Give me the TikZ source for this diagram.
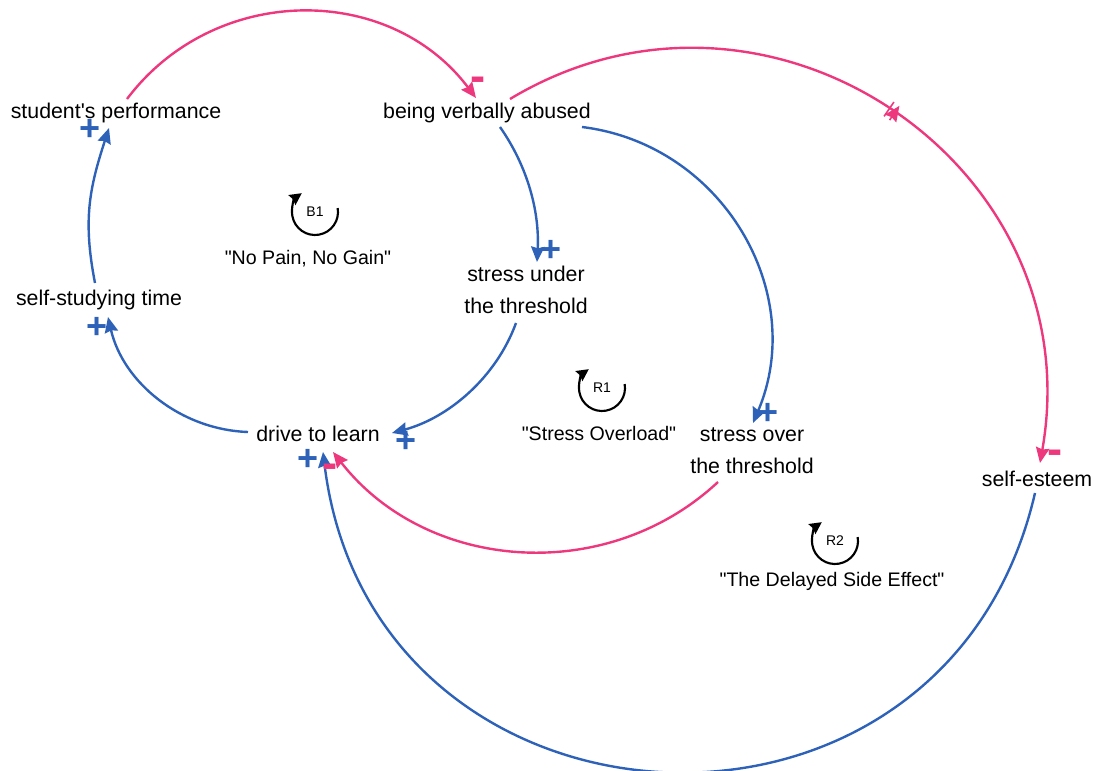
\documentclass[tikz,border=0pt]{standalone}
\usepackage{fontspec}
\setmainfont{Liberation Sans}[Ligatures=TeXOff]
\usetikzlibrary{arrows.meta,calc,decorations.markings}
\definecolor{linkblue}{RGB}{45,98,184}
\definecolor{linkpink}{RGB}{238,56,126}

\begin{document}
\begin{tikzpicture}[x=0.75pt,y=0.75pt,
  varnode/.style={font=\fontsize{16}{24}\selectfont, align=center, inner sep=0pt},
  looptitle/.style={font=\fontsize{14.7}{18}\selectfont, inner sep=0pt},
  loopid/.style={font=\fontsize{10.5}{12}\selectfont, inner sep=0pt},
  plussign/.style={text=linkblue, font=\fontsize{27}{27}\bfseries\selectfont, inner sep=0pt},
  minussign/.style={text=linkpink, font=\fontsize{34}{34}\bfseries\selectfont, inner sep=0pt},
  poslink/.style={draw=linkblue, line width=1.8pt, -{Stealth[length=11.5pt,width=10pt,inset=1.2pt]}},
  neglink/.style={draw=linkpink, line width=1.8pt, -{Stealth[length=11.5pt,width=10pt,inset=1.2pt]}},
  loopsym/.style={draw=black, line width=1.6pt, -{Stealth[length=9pt,width=9pt,inset=1pt]}},
  delaymark/.style={postaction={decorate, decoration={markings,
     mark=at position #1 with {\draw[linkpink, line width=1.2pt]
        (-2.5pt,-6.5pt) -- (-2.5pt,6.5pt) (2.5pt,-6.5pt) -- (2.5pt,6.5pt);}}}}
]
\useasboundingbox (0,0) rectangle (1096,-771);

% variables
\node[varnode] (perf)   at (116,-113) {student's performance};
\node[varnode] (abuse)  at (487,-113) {being verbally abused};
\node[varnode] (selfst) at (99,-300)  {self-studying time};
\node[varnode] (drive)  at (318,-434) {drive to learn};
\node[varnode] (under)  at (526,-290) {stress under\\the threshold};
\node[varnode] (over)   at (752,-451) {stress over\\the threshold};
\node[varnode] (esteem) at (1037,-479) {self-esteem};

% causal links
\draw[neglink] ($(perf)+(11,14)$) to[out=53,in=127,looseness=1.06] ($(abuse)+(-11,15)$);
\draw[neglink, delaymark=0.5] ($(abuse)+(23,14)$) to[out=31,in=80,looseness=1.2] ($(esteem)+(3,16)$);
\draw[poslink] ($(abuse)+(13,-14)$) to[out=-55,in=87,looseness=0.9] ($(under)+(11,28)$);
\draw[poslink] ($(abuse)+(95,-14)$) to[out=-7,in=67,looseness=1.06] ($(over)+(1,28)$);
\draw[poslink] ($(under)+(-10,-33)$) to[out=-110,in=15,looseness=0.9] ($(drive)+(74,1)$);
\draw[neglink] ($(over)+(-34,-31)$) to[out=-137,in=-52,looseness=1.01] ($(drive)+(15,-18)$);
\draw[poslink] ($(esteem)+(-2,-14)$) to[out=-103,in=-83,looseness=1.45] ($(drive)+(5,-18)$);
\draw[poslink] ($(drive)+(-70,2)$) to[out=178,in=-77,looseness=0.95] ($(selfst)+(9,-17)$);
\draw[poslink] ($(selfst)+(-4,17)$) to[out=101,in=-108,looseness=1.05] ($(perf)+(-7,-15)$);

% polarities
\node[minussign] (s1) at (478,-84)  {-};
\node[minussign] (s2) at (1055,-457) {-};
\node[plussign]  (s3) at (551,-251) {+};
\node[plussign]  (s4) at (768,-414) {+};
\node[plussign]  (s5) at (406,-442) {+};
\node[minussign] (s6) at (330,-471) {-};
\node[plussign]  (s7) at (308,-460) {+};
\node[plussign]  (s8) at (97,-328)  {+};
\node[plussign]  (s9) at (90,-130)  {+};

% loop markers
\coordinate (b1c) at (315,-212);
\draw[loopsym] ($(b1c)+(10:23)$) arc[start angle=10,end angle=-235,radius=23];
\node[loopid] (b1) at (b1c) {B1};
\node[looptitle] (b1t) at (308,-259) {"No Pain, No Gain"};

\coordinate (r1c) at (602,-388);
\draw[loopsym] ($(r1c)+(10:23)$) arc[start angle=10,end angle=-235,radius=23];
\node[loopid] (r1) at (r1c) {R1};
\node[looptitle] (r1t) at (599,-433) {"Stress Overload"};

\coordinate (r2c) at (835,-541);
\draw[loopsym] ($(r2c)+(10:23)$) arc[start angle=10,end angle=-235,radius=23];
\node[loopid] (r2) at (r2c) {R2};
\node[looptitle] (r2t) at (832,-581) {"The Delayed Side Effect"};
\end{tikzpicture}
\end{document}
